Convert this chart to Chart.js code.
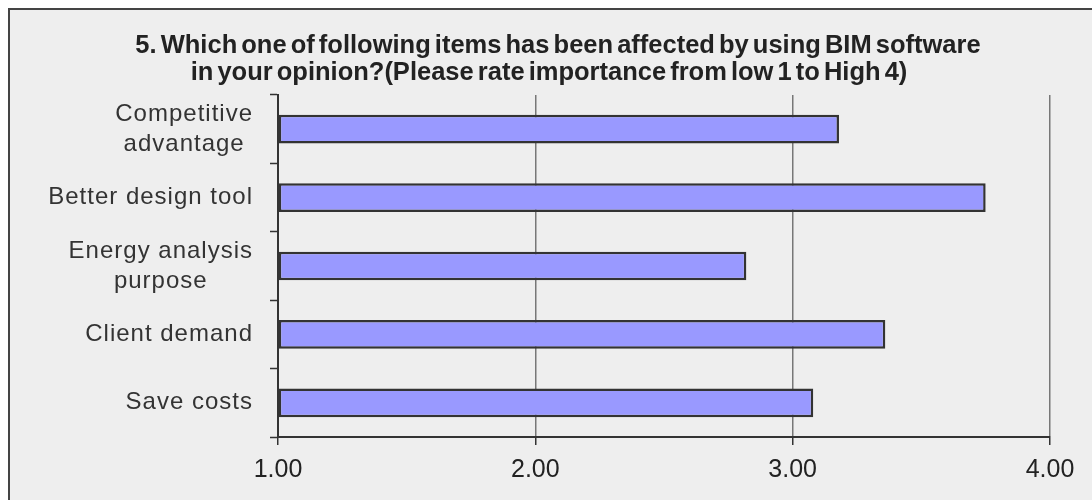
<!DOCTYPE html>
<html>
<head>
<meta charset="utf-8">
<script src="https://cdn.jsdelivr.net/npm/chart.js@4/dist/chart.umd.min.js"></script>
<style>
  html, body { margin: 0; padding: 0; background: #ffffff; }
  #wrap { width: 1092px; height: 500px; position: relative; }
</style>
</head>
<body>
<div id="wrap"><canvas id="chart" width="1092" height="500"></canvas></div>
<script>
// Survey question 5: mean importance rating (1 = low, 4 = high)
const titleLines = [
  '5. Which one of following items has been affected by using BIM software',
  'in your opinion?(Please rate importance from low 1 to High 4)'
];
const categories = [
  ['Competitive', 'advantage'],
  ['Better design tool'],
  ['Energy analysis', 'purpose'],
  ['Client demand'],
  ['Save costs']
];
const ratings = [3.18, 3.75, 2.82, 3.36, 3.08];
const axisTicks = [1, 2, 3, 4];

const FONT = '"Liberation Sans", Arial, sans-serif';

// Panel background and frame
const framePlugin = {
  id: 'frame',
  beforeDraw(chart) {
    const ctx = chart.ctx;
    ctx.save();
    ctx.fillStyle = '#ffffff';
    ctx.fillRect(0, 0, chart.width, chart.height);
    ctx.fillStyle = '#eeeeee';
    ctx.fillRect(9, 9, chart.width, chart.height);
    ctx.strokeStyle = '#444444';
    ctx.lineWidth = 2;
    ctx.strokeRect(9, 9, chart.width + 20, chart.height + 20);
    ctx.restore();
  }
};

// Title and centred multi-line category labels
const textPlugin = {
  id: 'texts',
  afterDraw(chart) {
    const ctx = chart.ctx;
    ctx.save();
    ctx.fillStyle = '#222222';
    ctx.textAlign = 'center';
    ctx.textBaseline = 'middle';
    ctx.font = 'bold 25.5px ' + FONT;
    ctx.wordSpacing = '-3px';
    ctx.fillText(titleLines[0], 558, 46);
    ctx.fillText(titleLines[1], 549, 73);
    ctx.wordSpacing = '0px';

    const yScale = chart.scales.y;
    ctx.font = '24px ' + FONT;
    ctx.letterSpacing = '1px';
    ctx.fillStyle = '#333333';
    const rightEdge = 253;
    const lineH = 30;
    categories.forEach((lines, i) => {
      const cy = yScale.getPixelForValue(i);
      const maxW = Math.max(...lines.map(l => ctx.measureText(l).width));
      const cx = rightEdge - maxW / 2;
      const y0 = cy - (lines.length - 1) * lineH / 2;
      lines.forEach((l, k) => ctx.fillText(l, cx, y0 + k * lineH));
    });
    ctx.restore();
  }
};

new Chart(document.getElementById('chart'), {
  type: 'bar',
  data: {
    labels: categories.map(c => c.join(' ')),
    datasets: [{
      data: ratings,
      base: axisTicks[0],
      backgroundColor: '#9999ff',
      borderColor: '#333333',
      borderWidth: 2.5,
      borderSkipped: false,
      barPercentage: 0.42,
      categoryPercentage: 1.0
    }]
  },
  options: {
    indexAxis: 'y',
    responsive: false,
    animation: false,
    events: [],
    layout: { padding: { top: 95, right: 42, left: 0, bottom: 0 } },
    plugins: {
      legend: { display: false },
      title: { display: false },
      tooltip: { enabled: false }
    },
    scales: {
      x: {
        type: 'linear',
        min: axisTicks[0],
        max: axisTicks[axisTicks.length - 1],
        afterBuildTicks(scale) { scale.ticks = axisTicks.map(v => ({ value: v })); },
        afterFit(scale) { scale.height = 63; },
        ticks: {
          callback: v => Number(v).toFixed(2),
          color: '#222222',
          font: { family: FONT, size: 25 },
          padding: 10,
          maxRotation: 0
        },
        grid: {
          color: '#777777',
          lineWidth: 1.5,
          tickLength: 8,
          tickColor: '#333333',
          tickWidth: 1.5
        },
        border: { color: '#333333', width: 2 }
      },
      y: {
        afterFit(scale) { scale.width = 278; },
        ticks: { display: false },
        grid: {
          drawOnChartArea: false,
          drawTicks: true,
          tickLength: 8,
          tickColor: '#333333',
          tickWidth: 1.5
        },
        border: { color: '#333333', width: 2 }
      }
    }
  },
  plugins: [framePlugin, textPlugin]
});
</script>
</body>
</html>
